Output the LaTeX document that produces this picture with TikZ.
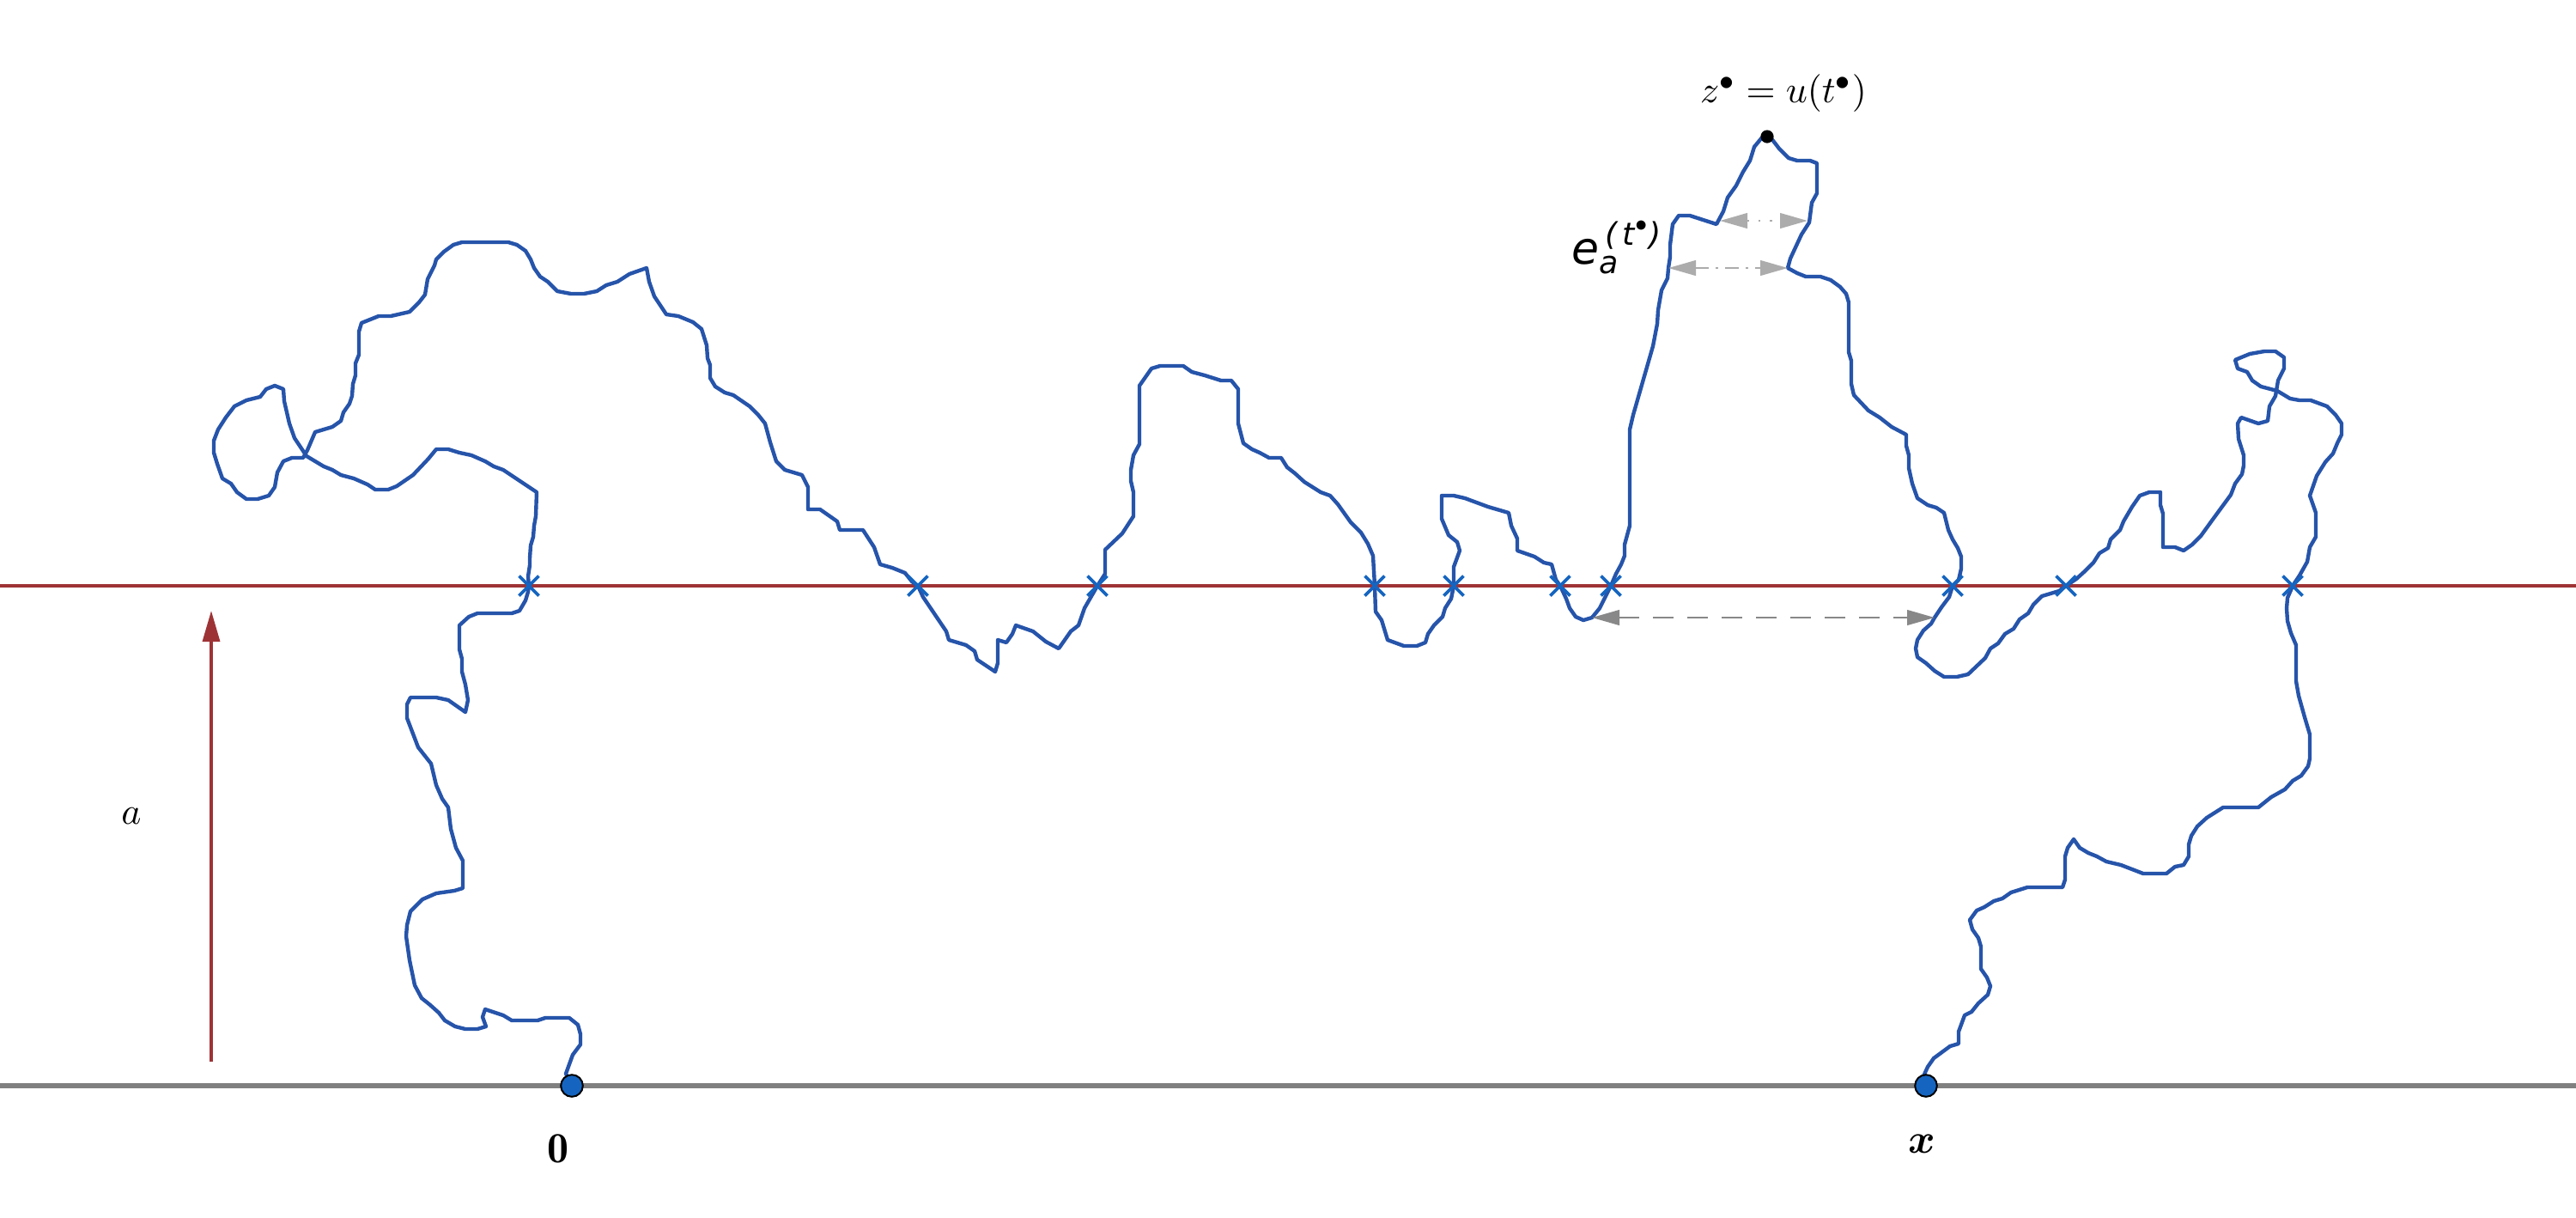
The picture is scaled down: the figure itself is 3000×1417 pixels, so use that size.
\documentclass[tikz,border=0pt]{standalone}
\usepackage{amsmath}
\usepackage{fontspec}
\newfontfamily\djv{DejaVu Sans}
\usetikzlibrary{arrows.meta,shapes.misc}
\definecolor{pathblue}{RGB}{38,84,170}
\definecolor{markblue}{RGB}{21,101,192}
\definecolor{levelred}{RGB}{158,51,54}
\definecolor{basegray}{RGB}{128,128,128}
\definecolor{softgray}{RGB}{172,172,172}
\definecolor{midgray}{RGB}{136,136,136}
\begin{document}
\begin{tikzpicture}[x=0.25pt,y=-0.25pt,
  walk/.style={draw=pathblue, line width=1.1pt, line join=round, line cap=round},
  hit/.style={cross out, draw=markblue, line width=0.95pt, minimum size=4.8pt, inner sep=0pt},
  endpt/.style={circle, fill=markblue, draw=black, line width=0.5pt, minimum size=6.4pt, inner sep=0pt},
  topdot/.style={circle, fill=black, minimum size=3.8pt, inner sep=0pt},
  lbl/.style={font=\fontsize{11}{13}\selectfont, inner sep=0pt},
  span/.style={line width=0.6pt}
]
\useasboundingbox (0,0) rectangle (3000,1417);
% base and level lines
\coordinate (bl) at (0,1264);
\coordinate (br) at (3000,1264);
\coordinate (rl) at (0,682);
\coordinate (rr) at (3000,682);
\draw[basegray, line width=1.4pt] (bl) -- (br);
\draw[levelred, line width=1.15pt] (rl) -- (rr);
% height arrow
\coordinate (ab) at (246,1236);
\coordinate (at) at (246,711);
\draw[levelred, line width=0.85pt, -{Triangle[length=9pt,width=5pt]}] (ab) -- (at);
\node[lbl] (alab) at (153,950) {$a$};
% walk
\coordinate (o) at (666,1264);
\coordinate (xx) at (2243,1264);
\draw[walk] (o) -- (659,1250) -- (667,1228) -- (676,1216) -- (676,1204) -- (673,1193) -- (663,1185) -- (635,1185) -- (626,1188) -- (596,1188) -- (586,1182) -- (565,1175) -- (562,1184) -- (566,1195) -- (556,1198) -- (542,1198) -- (530,1195) -- (518,1188) -- (511,1179) -- (501,1170) -- (491,1162) -- (483,1147) -- (477,1118) -- (475,1104) -- (473,1090) -- (474,1077) -- (478,1061) -- (492,1047) -- (508,1040) -- (529,1037) -- (539,1034) -- (539,1002) -- (531,987) -- (525,965) -- (522,940) -- (515,930) -- (508,914) -- (502,889) -- (487,870) -- (474,836) -- (474,820) -- (478,812) -- (508,812) -- (522,815) -- (542,829) -- (545,815) -- (542,797) -- (538,782) -- (538,767) -- (535,756) -- (535,728) -- (546,718) -- (556,714) -- (596,714) -- (605,711) -- (612,699) -- (615,689) -- (616,682) -- (615,671) -- (617,658) -- (617,650) -- (618,635) -- (621,625) -- (622,612) -- (624,601) -- (625,573) -- (607,561) -- (586,547) -- (575,543) -- (565,537) -- (549,530) -- (535,527) -- (522,523) -- (508,523) -- (499,534) -- (481,553) -- (462,566) -- (452,570) -- (437,570) -- (428,564) -- (412,557) -- (397,553) -- (387,547) -- (377,543) -- (357,531) -- (343,510) -- (337,493) -- (331,467) -- (330,453) -- (320,449) -- (310,453) -- (303,462) -- (287,466) -- (273,473) -- (263,486) -- (254,500) -- (249,513) -- (249,527) -- (253,540) -- (259,557) -- (269,563) -- (276,573) -- (287,581) -- (300,581) -- (313,577) -- (320,567) -- (323,550) -- (330,537) -- (340,533) -- (353,533) -- (358,524) -- (367,503) -- (387,497) -- (397,490) -- (400,480) -- (407,470) -- (410,461) -- (411,447) -- (414,437) -- (414,423) -- (418,413) -- (418,386) -- (421,376) -- (441,368) -- (455,368) -- (477,363) -- (488,352) -- (495,343) -- (498,325) -- (506,309) -- (508,302) -- (517,293) -- (528,285) -- (538,282) -- (592,282) -- (602,285) -- (612,292) -- (618,302) -- (622,312) -- (629,322) -- (638,328) -- (649,339) -- (665,342) -- (680,342) -- (695,339) -- (706,332) -- (719,328) -- (733,319) -- (753,312) -- (756,328) -- (762,345) -- (776,366) -- (790,368) -- (807,375) -- (817,383) -- (823,402) -- (824,417) -- (827,425) -- (827,440) -- (833,450) -- (844,457) -- (854,460) -- (873,473) -- (883,483) -- (891,493) -- (897,515) -- (904,537) -- (914,547) -- (934,553) -- (941,567) -- (941,593) -- (955,593) -- (975,607) -- (978,617) -- (1005,617) -- (1018,637) -- (1025,657) -- (1039,661) -- (1054,667) -- (1062,677) -- (1069,682) -- (1075,695) -- (1102,735) -- (1105,745) -- (1125,751) -- (1135,758) -- (1138,768) -- (1159,782) -- (1162,772) -- (1162,745) -- (1172,748) -- (1179,738) -- (1183,728) -- (1203,735) -- (1218,747) -- (1233,755) -- (1247,735) -- (1256,728) -- (1263,708) -- (1278,682) -- (1287,668) -- (1287,640) -- (1307,621) -- (1320,601) -- (1320,573) -- (1317,560) -- (1317,547) -- (1320,530) -- (1327,517) -- (1327,449) -- (1341,429) -- (1351,426) -- (1378,426) -- (1388,433) -- (1403,437) -- (1422,443) -- (1434,443) -- (1442,453) -- (1442,493) -- (1448,516) -- (1458,523) -- (1467,527) -- (1478,533) -- (1492,533) -- (1499,544) -- (1508,551) -- (1519,561) -- (1538,573) -- (1549,577) -- (1558,587) -- (1573,608) -- (1585,620) -- (1593,633) -- (1599,647) -- (1601,682) -- (1602,712) -- (1609,722) -- (1616,745) -- (1635,752) -- (1650,752) -- (1660,748) -- (1663,738) -- (1670,728) -- (1680,718) -- (1683,708) -- (1690,697) -- (1693,682) -- (1693,660) -- (1700,641) -- (1697,631) -- (1687,623) -- (1679,604) -- (1679,577) -- (1693,577) -- (1706,580) -- (1733,590) -- (1757,597) -- (1760,612) -- (1767,627) -- (1767,641) -- (1787,648) -- (1798,655) -- (1807,657) -- (1812,675) -- (1817,682) -- (1824,697) -- (1828,708) -- (1835,718) -- (1844,722) -- (1854,719) -- (1863,708) -- (1868,698) -- (1876,682) -- (1882,668) -- (1888,657) -- (1892,647) -- (1892,634) -- (1898,612) -- (1898,500) -- (1902,483) -- (1925,403) -- (1930,377) -- (1931,361) -- (1935,338) -- (1942,324) -- (1943,312) -- (1945,299) -- (1945,285) -- (1948,261) -- (1955,251) -- (1968,251) -- (1999,261) -- (2007,246) -- (2012,230) -- (2022,216) -- (2030,200) -- (2038,187) -- (2043,171) -- (2052,160) -- (2062,160) -- (2072,173) -- (2083,184) -- (2093,187) -- (2108,187) -- (2116,190) -- (2116,225) -- (2110,236) -- (2107,259) -- (2098,273) -- (2085,301) -- (2082,312) -- (2093,318) -- (2103,322) -- (2120,322) -- (2132,326) -- (2143,334) -- (2150,342) -- (2153,352) -- (2153,410) -- (2156,420) -- (2156,447) -- (2159,460) -- (2176,478) -- (2189,486) -- (2203,497) -- (2220,506) -- (2220,519) -- (2223,530) -- (2223,545) -- (2227,563) -- (2233,580) -- (2245,588) -- (2255,591) -- (2264,597) -- (2269,617) -- (2274,628) -- (2280,638) -- (2284,648) -- (2284,662) -- (2281,675) -- (2274,682) -- (2270,695) -- (2261,707) -- (2253,719) -- (2249,726) -- (2240,734) -- (2233,745) -- (2231,755) -- (2233,765) -- (2243,772) -- (2253,781) -- (2264,788) -- (2279,788) -- (2292,785) -- (2312,766) -- (2318,755) -- (2327,749) -- (2335,738) -- (2345,732) -- (2352,721) -- (2362,714) -- (2368,704) -- (2378,694) -- (2398,688) -- (2406,682) -- (2418,674) -- (2428,665) -- (2438,655) -- (2445,644) -- (2455,638) -- (2458,628) -- (2469,617) -- (2473,607) -- (2483,590) -- (2492,577) -- (2503,573) -- (2516,573) -- (2516,588) -- (2519,598) -- (2519,637) -- (2533,637) -- (2543,641) -- (2553,634) -- (2563,624) -- (2576,606) -- (2598,576) -- (2603,563) -- (2611,552) -- (2613,542) -- (2613,530) -- (2607,511) -- (2606,493) -- (2610,486) -- (2630,493) -- (2641,490) -- (2643,473) -- (2650,461) -- (2653,443) -- (2660,429) -- (2660,416) -- (2650,409) -- (2637,409) -- (2620,412) -- (2603,419) -- (2606,429) -- (2617,433) -- (2623,443) -- (2633,450) -- (2652,455) -- (2657,458) -- (2667,464) -- (2678,466) -- (2691,466) -- (2710,473) -- (2720,483) -- (2727,493) -- (2727,506) -- (2722,516) -- (2717,528) -- (2708,538) -- (2698,554) -- (2690,577) -- (2697,597) -- (2697,625) -- (2690,637) -- (2687,654) -- (2678,670) -- (2670,682) -- (2664,696) -- (2663,708) -- (2664,723) -- (2668,737) -- (2674,751) -- (2674,793) -- (2677,810) -- (2684,835) -- (2690,855) -- (2690,883) -- (2688,892) -- (2680,903) -- (2670,909) -- (2661,919) -- (2645,928) -- (2630,940) -- (2589,940) -- (2570,952) -- (2559,962) -- (2552,973) -- (2549,983) -- (2549,997) -- (2543,1007) -- (2533,1009) -- (2523,1017) -- (2496,1017) -- (2470,1007) -- (2453,1003) -- (2442,997) -- (2432,993) -- (2422,987) -- (2415,977) -- (2408,987) -- (2405,997) -- (2405,1024) -- (2402,1033) -- (2361,1033) -- (2342,1039) -- (2332,1046) -- (2322,1049) -- (2311,1056) -- (2302,1060) -- (2294,1071) -- (2297,1082) -- (2304,1092) -- (2307,1102) -- (2307,1128) -- (2314,1138) -- (2318,1148) -- (2315,1158) -- (2304,1168) -- (2296,1178) -- (2288,1182) -- (2281,1201) -- (2281,1215) -- (2271,1218) -- (2252,1232) -- (2245,1242) -- (2240,1253) -- (xx);
% crossings of level a
\node[hit] (c1) at (616,682) {};
\node[hit] (c2) at (1069,682) {};
\node[hit] (c3) at (1278,682) {};
\node[hit] (c4) at (1601,682) {};
\node[hit] (c5) at (1693,682) {};
\node[hit] (c6) at (1817,682) {};
\node[hit] (c7) at (1876,682) {};
\node[hit] (c8) at (2274,682) {};
\node[hit] (c9) at (2406,682) {};
\node[hit] (c10) at (2670,682) {};
% end points
\node[endpt] (zero) at (o) {};
\node[endpt] (xpt) at (xx) {};
\node[lbl, font=\fontsize{12.5}{14}\selectfont] (zerolab) at (650,1337) {$\mathbf{0}$};
\node[lbl, font=\fontsize{12.5}{14}\selectfont] (xlab) at (2238,1332) {$\boldsymbol{x}$};
% top point
\node[topdot] (zs) at (2058,159) {};
\node[lbl] (zslab) at (2077,109) {$z^\bullet = u(t^\bullet)$};
% excursion spans
\coordinate (d1l) at (2003,257);
\coordinate (d1r) at (2105,257);
\coordinate (d2l) at (1943,312);
\coordinate (d2r) at (2082,312);
\coordinate (d3l) at (1854,719);
\coordinate (d3r) at (2253,719);
\draw[span, softgray, dash pattern=on 0.7pt off 2.6pt, {Triangle[length=8pt,width=4.4pt]}-{Triangle[length=8pt,width=4.4pt]}] (d1l) -- (d1r);
\draw[span, softgray, dash pattern=on 4pt off 2pt on 0.7pt off 2pt, {Triangle[length=8pt,width=4.4pt]}-{Triangle[length=8pt,width=4.4pt]}] (d2l) -- (d2r);
\draw[span, midgray, dash pattern=on 6pt off 4pt, {Triangle[length=8pt,width=4.4pt]}-{Triangle[length=8pt,width=4.4pt]}] (d3l) -- (d3r);
\node[lbl, font=\fontsize{13}{15}\selectfont] (elab) at (1884,288) {\djv\itshape e$_{\text{\djv\itshape a}}^{\,\text{\djv\itshape (\,t}^{\bullet}\text{\djv\itshape )}}$};
\end{tikzpicture}
\end{document}
